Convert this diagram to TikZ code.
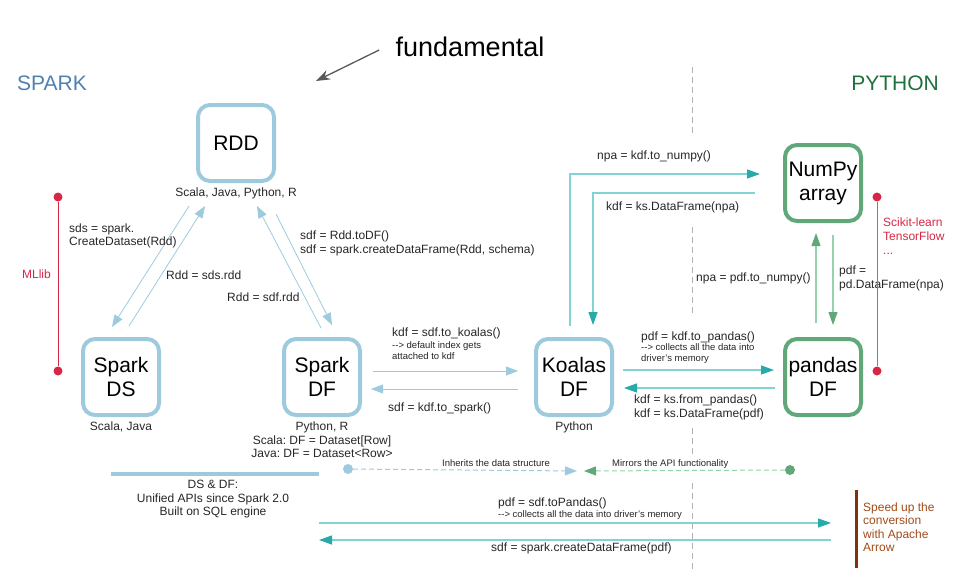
\documentclass[tikz,border=0pt]{standalone}
\usepackage{fontspec}
\setmainfont{Liberation Sans}
\usepackage{tikz}
\usetikzlibrary{arrows.meta,positioning,calc}
\definecolor{sparkblue}{RGB}{158,202,222}
\definecolor{sparktitle}{RGB}{79,129,178}
\definecolor{pygreen}{RGB}{96,168,122}
\definecolor{pylight}{RGB}{150,210,170}
\definecolor{pytitle}{RGB}{30,112,60}
\definecolor{tealline}{RGB}{128,212,212}
\definecolor{tealhead}{RGB}{40,170,170}
\definecolor{mlred}{RGB}{214,40,70}
\definecolor{barbrown}{RGB}{130,50,10}
\definecolor{textbrown}{RGB}{160,75,25}
\newcommand{\dashto}{-\kern0pt-\kern0pt>}
\tikzstyle{box} = [draw, rounded corners=12pt, line width=4pt, minimum size=76pt, align=center, inner sep=0pt, font=\fontsize{21}{24}\selectfont]
\tikzstyle{sparkbox} = [box, draw=sparkblue]
\tikzstyle{pybox} = [box, draw=pygreen]
\tikzstyle{lbl} = [inner sep=0pt, align=left, text=black!85, font=\fontsize{12}{13.5}\selectfont]
\tikzstyle{tiny} = [inner sep=0pt, align=left, text=black!85, font=\fontsize{9.5}{11}\selectfont]
\tikzstyle{sparkarrow} = [-{Triangle[length=12pt,width=9pt]}, sparkblue, line width=0.8pt]
\tikzstyle{tealarrow} = [-{Triangle[length=13pt,width=9pt,color=tealhead]}, tealline, line width=1.3pt]
\tikzstyle{greenarrow} = [-{Triangle[length=13pt,width=9pt,color=pygreen]}, pylight, line width=1.2pt]
\tikzstyle{dot} = [circle, inner sep=0pt, minimum size=9pt]
\tikzstyle{sep} = [gray!60, line width=0.8pt, dash pattern=on 6pt off 4pt]

\begin{document}
\frenchspacing
\begin{tikzpicture}[x=1pt, y=-1pt]
    \useasboundingbox (0,0) rectangle (956,573);
    % titles
    \node[font=\fontsize{27}{30}\selectfont] (fund) at (470,47) {fundamental};
    \coordinate (fundtip) at (316,81);
    \draw[-{Stealth[length=14pt,width=10pt]}, black!65, line width=1.3pt] ($(fund.west)+(-13,3)$) -- (fundtip);
    \node[font=\fontsize{21}{24}\selectfont, text=sparktitle] (spark) at (52,83) {SPARK};
    \node[font=\fontsize{21}{24}\selectfont, text=pytitle] (python) at (895,83) {PYTHON};
    % separator
    \draw[sep] (692,67) -- (692,137);
    \draw[sep] (692,227) -- (692,315);
    \draw[sep] (692,428) -- (692,455);
    \draw[sep] (692,483) -- (692,570);
    % nodes
    \node[sparkbox] (RDD) at (236,143) {RDD};
    \node[sparkbox] (DS) at (121,377) {Spark\\DS};
    \node[sparkbox] (DF) at (322,377) {Spark\\DF};
    \node[sparkbox] (KDF) at (574,377) {Koalas\\DF};
    \node[pybox] (PDF) at (823,377) {pandas\\DF};
    \node[pybox] (NP) at (823,183) {NumPy\\array};
    \node[lbl, align=center, below=5pt of RDD] (rddlang) {Scala, Java, Python, R};
    \node[lbl, align=center, below=5pt of DS] (dslang) {Scala, Java};
    \node[lbl, align=center, below=5pt of DF] (dflang) {Python, R\\Scala: DF = Dataset[Row]\\Java: DF = Dataset<Row>};
    \node[lbl, align=center, below=5pt of KDF] (kdflang) {Python};
    % RDD <-> DS / DF
    \draw[sparkarrow] ($(RDD)+(-47,63)$) -- ($(DS)+(-9,-50)$);
    \draw[sparkarrow] ($(DS)+(8,-51)$) -- ($(RDD)+(-31,63)$);
    \draw[sparkarrow] ($(DF)+(-1,-49)$) -- ($(RDD)+(21,63)$);
    \draw[sparkarrow] ($(RDD)+(40,71)$) -- ($(DF)+(10,-52)$);
    \node[lbl, anchor=west] (sds) at (69,236) {sds = spark.\\CreateDataset(Rdd)};
    \node[lbl, anchor=west] (sdsrdd) at (166,275) {Rdd = sds.rdd};
    \node[lbl, anchor=west] (sdfrdd) at (227,297) {Rdd = sdf.rdd};
    \node[lbl, anchor=west] (todf) at (300,243.5) {sdf = Rdd.toDF()\\sdf = spark.createDataFrame(Rdd, schema)};
    % DF <-> Koalas
    \draw[sparkarrow] ($(DF.east)+(11,-6)$) -- ($(KDF.west)+(-16,-6)$);
    \draw[sparkarrow] ($(KDF.west)+(-16,12)$) -- ($(DF.east)+(9,12)$);
    \node[lbl, anchor=west] (tokoalas) at (392,333) {kdf = sdf.to\_koalas()};
    \node[tiny, anchor=west] (tokoalasnote) at (392,350.5) {\dashto{} default index gets\\attached to kdf};
    \node[lbl, anchor=west] (tospark) at (388,408) {sdf = kdf.to\_spark()};
    % Koalas <-> pandas
    \draw[tealarrow] ($(KDF.east)+(9,-7)$) -- ($(PDF.west)+(-9,-7)$);
    \draw[tealarrow] ($(PDF.west)+(-8,11)$) -- ($(KDF.east)+(10,11)$);
    \node[lbl, anchor=west] (topandas) at (641,337) {pdf = kdf.to\_pandas()};
    \node[tiny, anchor=west] (topandasnote) at (641,353.5) {\dashto{} collects all the data into\\driver's memory};
    \node[lbl, anchor=west] (frompandas) at (634,407.5) {kdf = ks.from\_pandas()\\kdf = ks.DataFrame(pdf)};
    % Koalas <-> NumPy
    \draw[tealarrow] ($(KDF.north)+(-4,-11)$) |- ($(NP.west)+(-23,-9)$);
    \draw[tealarrow] ($(NP.west)+(-28,10)$) -| ($(KDF.north)+(19,-12)$);
    \node[lbl, anchor=west] (kdfnumpy) at (597,156) {npa = kdf.to\_numpy()};
    \node[lbl, anchor=west] (npakdf) at (606,207) {kdf = ks.DataFrame(npa)};
    % NumPy <-> pandas
    \draw[greenarrow] ($(PDF.north)+(-7,-14)$) -- ($(NP.south)+(-7,10)$);
    \draw[greenarrow] ($(NP.south)+(10,12)$) -- ($(PDF.north)+(10,-12)$);
    \node[lbl, anchor=west] (pdfnumpy) at (696,278) {npa = pdf.to\_numpy()};
    \node[lbl, anchor=west] (npapdf) at (839,278.5) {pdf =\\pd.DataFrame(npa)};
    % libraries
    \node[dot, fill=mlred] (mltop) at (58,197) {};
    \node[dot, fill=mlred] (mlbot) at (58,371) {};
    \draw[mlred, line width=1pt] (mltop) -- (mlbot);
    \node[lbl, anchor=east, text=mlred] (mllib) at (51,274) {MLlib};
    \node[dot, fill=mlred] (sktop) at (877,197) {};
    \node[dot, fill=mlred] (skbot) at (877,371) {};
    \draw[mlred!80, line width=0.8pt] (sktop) -- (skbot);
    \node[lbl, anchor=west, text=mlred, font=\fontsize{12}{14}\selectfont] (sklearn) at (883,236.5) {Scikit-learn\\TensorFlow\\...};
    % inherits / mirrors
    \node[dot, fill=sparkblue, minimum size=10pt] (inhdot) at (348,469) {};
    \coordinate (inh) at (577,471);
    \draw[sparkblue, line width=1pt, dash pattern=on 5pt off 3pt, -{Triangle[length=12pt,width=9pt]}] (inhdot) -- (inh);
    \node[tiny] (inhlbl) at (496,463) {Inherits the data structure};
    \node[dot, fill=pygreen, minimum size=10pt] (mirdot) at (790,470) {};
    \coordinate (mir) at (584,471);
    \draw[pylight, line width=1pt, dash pattern=on 5pt off 3pt, -{Triangle[length=12pt,width=9pt,color=pygreen]}] (mirdot) -- (mir);
    \node[tiny, anchor=west] (mirlbl) at (612,464) {Mirrors the API functionality};
    % DS & DF
    \draw[sparkblue, line width=3.5pt] (111,474) -- (319,474);
    \node[lbl, align=center] (unified) at (213,499.5) {DS \& DF:\\Unified APIs since Spark 2.0\\Built on SQL engine};
    % Spark DF <-> pandas
    \coordinate (sparkin) at (319,523);
    \coordinate (pdin) at (831,523);
    \coordinate (pdout) at (831,540);
    \coordinate (sparkout) at (319,540);
    \draw[tealarrow] (sparkin) -- (pdin);
    \draw[tealarrow] (pdout) -- (sparkout);
    \node[lbl, anchor=west] (topd) at (498,503) {pdf = sdf.toPandas()};
    \node[tiny, anchor=west] (topdnote) at (498,515) {\dashto{} collects all the data into driver's memory};
    \node[lbl, anchor=west] (frompd) at (491,548) {sdf = spark.createDataFrame(pdf)};
    % arrow
    \draw[barbrown, line width=3pt] (856,490) -- (856,568);
    \node[lbl, anchor=west, text=textbrown] (arrowlbl) at (863,527) {Speed up the\\conversion\\with Apache\\Arrow};
\end{tikzpicture}
\end{document}
